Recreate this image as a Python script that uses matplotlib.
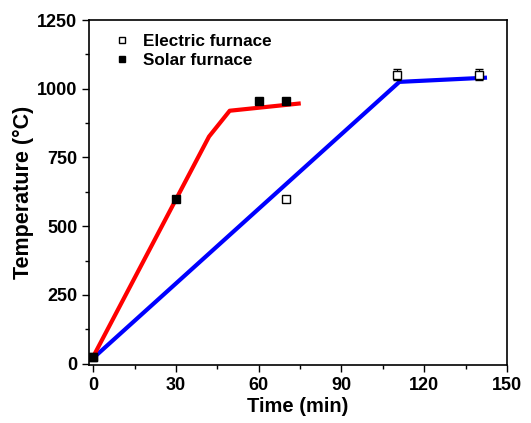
import matplotlib
matplotlib.use("Agg")
import matplotlib.pyplot as plt
from matplotlib.ticker import MultipleLocator

plt.rcParams['font.family'] = ['Liberation Sans', 'DejaVu Sans']
plt.rcParams['font.weight'] = 'bold'

# Electric furnace measured points
elec_time = [0, 70, 110, 140]
elec_temp = [25, 600, 1050, 1050]
elec_err = [0, 0, 20, 20]
# Solar furnace measured points
solar_time = [0, 30, 60, 70]
solar_temp = [25, 600, 955, 955]
solar_err = [0, 0, 8, 12]

# Fitted profiles
elec_line_time = [0, 111, 142]
elec_line_temp = [20, 1025, 1040]
solar_line_time = [0, 42, 49.5, 74.5]
solar_line_temp = [25, 826, 920, 946]

fig = plt.figure(figsize=(5.31, 4.23), dpi=100)
ax = fig.add_axes([0.1676, 0.137, 0.7872, 0.8157])

ax.plot(elec_line_time, elec_line_temp, color='#0000ff', lw=3, zorder=2)
ax.plot(solar_line_time, solar_line_temp, color='#ff0000', lw=3, zorder=2)

ax.errorbar(elec_time, elec_temp, yerr=elec_err, fmt='s', ms=6, mfc='white',
            mec='black', mew=1, ecolor='black', elinewidth=0.8, capsize=3,
            label='Electric furnace', zorder=3)
ax.errorbar(solar_time, solar_temp, yerr=solar_err, fmt='s', ms=6, mfc='black',
            mec='black', mew=1, ecolor='gray', elinewidth=0.8, capsize=3,
            label='Solar furnace', zorder=3)

ax.set_xlim(-1.5, 150)
ax.set_ylim(-5, 1250)
ax.xaxis.set_major_locator(MultipleLocator(30))
ax.xaxis.set_minor_locator(MultipleLocator(15))
ax.yaxis.set_major_locator(MultipleLocator(250))
ax.yaxis.set_minor_locator(MultipleLocator(125))
ax.tick_params(which='major', direction='out', length=5, width=1, labelsize=13)
ax.tick_params(which='minor', direction='out', length=3, width=1)
for lab in ax.get_xticklabels() + ax.get_yticklabels():
    lab.set_fontweight('bold')
for s in ax.spines.values():
    s.set_linewidth(1.2)

ax.set_xlabel('Time (min)', fontsize=14.5, fontweight='bold', labelpad=2)
ax.set_ylabel('Temperature (°C)', fontsize=15.5, fontweight='bold', labelpad=2)

h, l = ax.get_legend_handles_labels()
h = [hh[0] for hh in h]
leg = ax.legend(h, l, loc='upper left', bbox_to_anchor=(0.031, 0.994), frameon=False,
                handletextpad=0.7, handlelength=1.0, labelspacing=0.25,
                markerscale=0.8, borderaxespad=0.3, borderpad=0.4,
                prop={'weight': 'bold', 'size': 12.3})

fig.savefig('out.png', dpi=100)
